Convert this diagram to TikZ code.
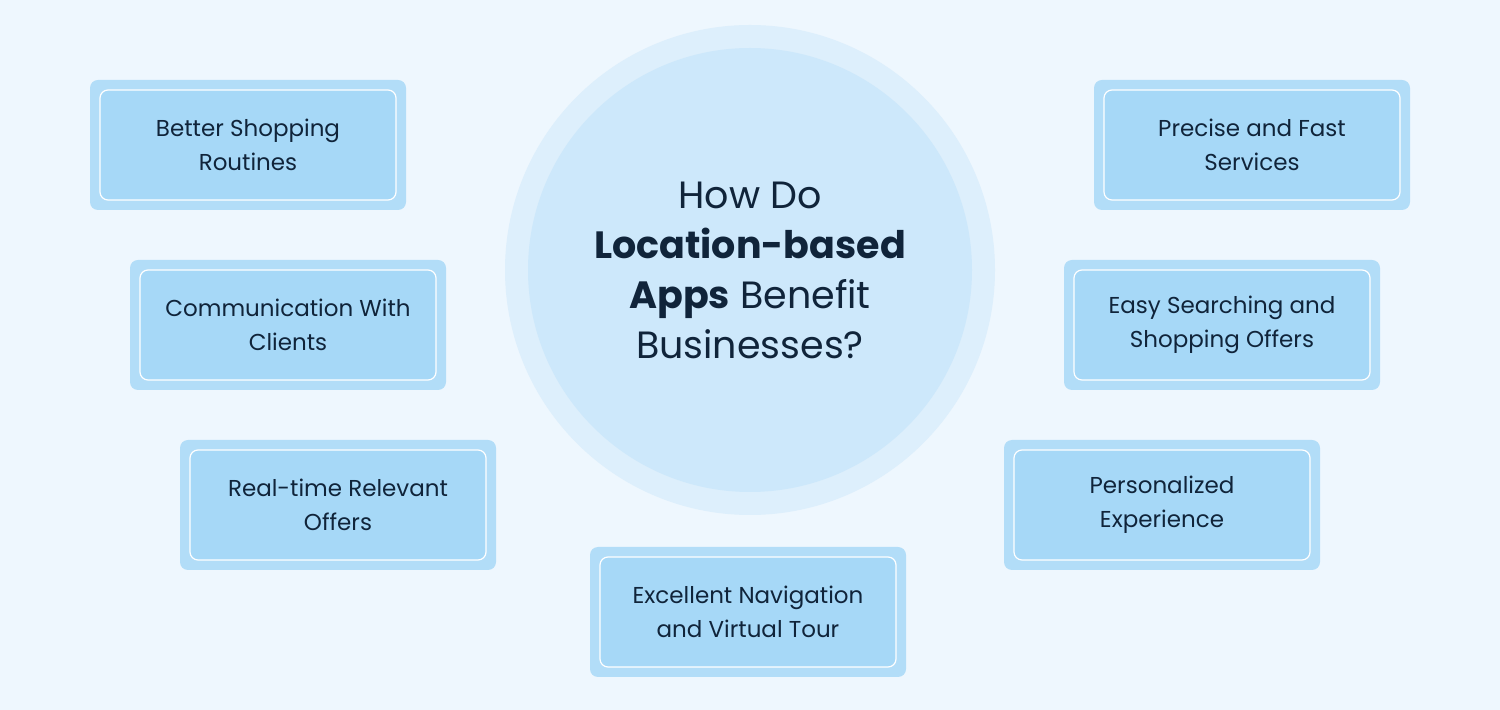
\documentclass[tikz,border=0pt]{standalone}
\usepackage{fontspec}
\setmainfont{Poppins}
\definecolor{bg}{HTML}{EEF7FE}
\definecolor{ringA}{HTML}{DDEFFC}
\definecolor{ringB}{HTML}{CDE8FB}
\definecolor{boxout}{HTML}{B2DDF8}
\definecolor{boxin}{HTML}{A6D8F7}
\definecolor{txt}{HTML}{10243A}
\begin{document}
\begin{tikzpicture}[x=0.5pt,y=-0.5pt,
  lbl/.style={font=\fontsize{11.5}{17}\selectfont, text=txt, align=center},
  outbox/.style={fill=boxout, rounded corners=4pt},
  inbox/.style={fill=boxin, draw=white, line width=0.6pt, rounded corners=4pt}]
\fill[bg] (0,0) rectangle (1500,710);
\useasboundingbox (0,0) rectangle (1500,710);
\fill[ringA] (750,270) circle[radius=245];
\fill[ringB] (750,270) circle[radius=222];
\node[font=\fontsize{19}{25}\selectfont, text=txt, align=center] (title) at (750,270)
  {How Do\\\textbf{Location-based}\\\textbf{Apps} Benefit\\Businesses?};
\foreach \n/\x/\y/\t in {
  b1/90/80/{Better Shopping\\Routines},
  b2/130/260/{Communication With\\Clients},
  b3/180/440/{Real-time Relevant\\Offers},
  b4/590/547/{Excellent Navigation\\and Virtual Tour},
  b5/1004/440/{Personalized\\Experience},
  b6/1064/260/{Easy Searching and\\Shopping Offers},
  b7/1094/80/{Precise and Fast\\Services}}{
  \fill[outbox] (\x,\y) rectangle ++(316,130);
  \draw[inbox] (\x+10,\y+10) rectangle ++(296,110);
  \node[lbl] (\n) at (\x+158,\y+65) {\t};
}
\end{tikzpicture}
\end{document}
